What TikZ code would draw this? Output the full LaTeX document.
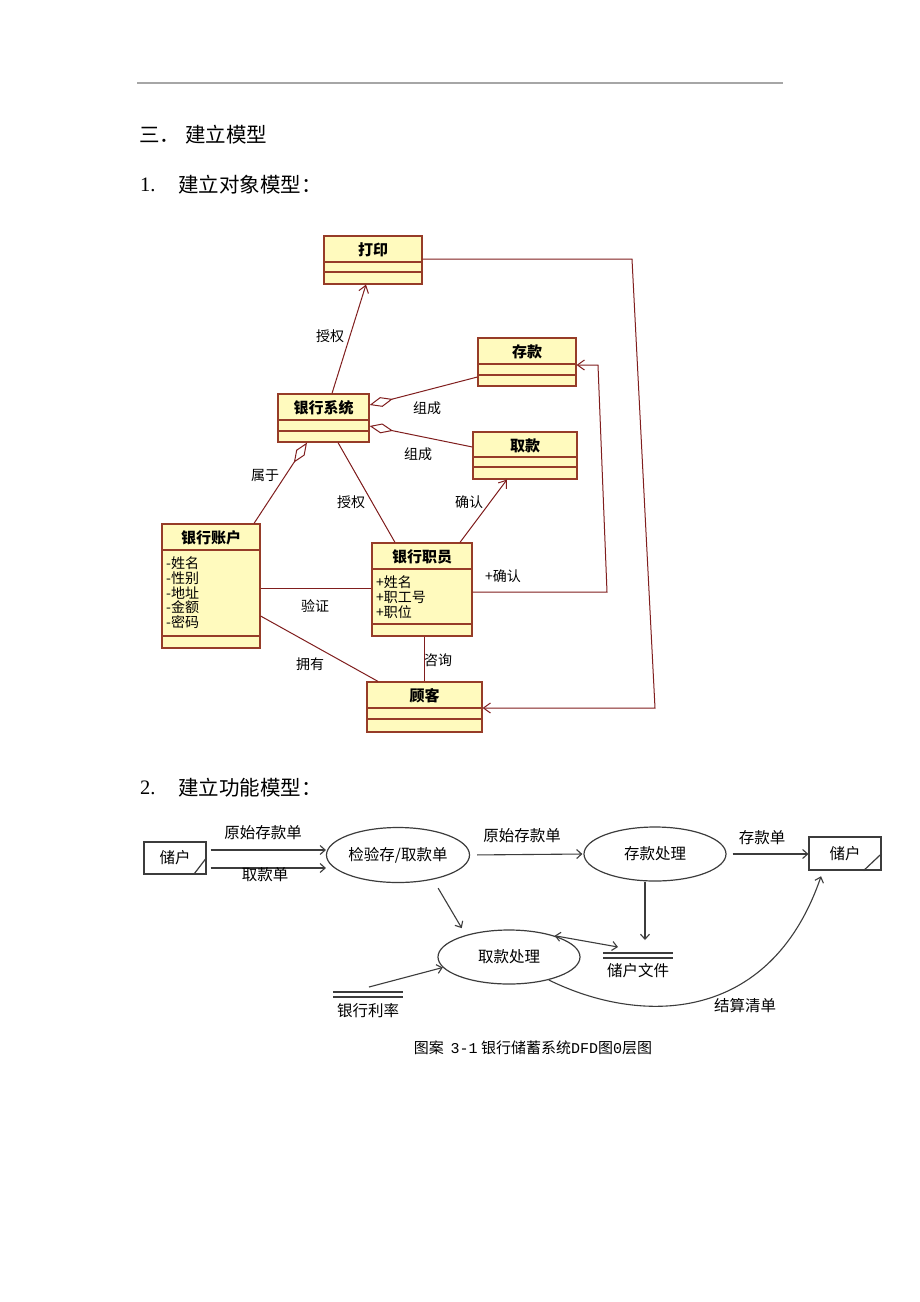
\documentclass[tikz,border=0pt]{standalone}
\usepackage{fontspec}
\setmainfont{Noto Sans CJK SC}
\newfontfamily\numserif{Liberation Serif}
\newfontfamily\capmono{Liberation Mono}
\usetikzlibrary{arrows.meta,shapes.geometric}

\definecolor{clsfill}{RGB}{255,250,190}
\definecolor{clsdraw}{RGB}{150,60,40}
\definecolor{linkred}{RGB}{128,30,30}
\definecolor{dfdgray}{RGB}{60,60,60}

\tikzset{
  clsbox/.style={draw=clsdraw, fill=clsfill, line width=1.2pt, inner sep=0pt},
  clsline/.style={draw=clsdraw, line width=1.2pt},
  clsname/.style={font=\fontsize{15}{15}\selectfont\bfseries, inner sep=0pt},
  attr/.style={font=\fontsize{14}{14}\selectfont, anchor=west, inner sep=0pt},
  link/.style={draw=linkred, line width=1pt},
  lab/.style={font=\fontsize{14}{14}\selectfont, inner sep=0pt},
  uarrow/.style={-{Straight Barb[length=7pt,width=10pt]}},
  agg/.style={-{Diamond[open,length=24pt,width=10pt]}},
  head/.style={font=\fontsize{20.5}{20.5}\selectfont, anchor=west, inner sep=0pt},
  dfdbox/.style={draw=dfdgray, line width=1.2pt, inner sep=0pt, font=\fontsize{15.5}{15.5}\selectfont},
  proc/.style={ellipse, draw=dfdgray, line width=1.2pt, inner sep=0pt, font=\fontsize{15.5}{15.5}\selectfont},
  dfdline/.style={draw=dfdgray, line width=1.2pt},
  dfdlab/.style={font=\fontsize{15.5}{15.5}\selectfont, inner sep=0pt},
  flow/.style={draw=dfdgray, line width=1.1pt, -{Straight Barb[length=5pt,width=9pt]}}
}

% name, left, top, right, bottom, line1, line2, title
\newcommand{\classbox}[8]{%
  \node[clsbox, minimum width={#4-#2}, minimum height={#5-#3}] (#1) at ({(#2+#4)/2},{(#3+#5)/2}) {};
  \draw[clsline] (#2,#6) -- (#4,#6) (#2,#7) -- (#4,#7);
  \node[clsname] (#1-name) at ({(#2+#4)/2},{(#3+#6)/2+1}) {#8};
}

\begin{document}
\begin{tikzpicture}[x=1pt,y=-1pt]
  \fill[white] (0,0) rectangle (920,1302);
  \useasboundingbox (0,0) rectangle (920,1302);

  \draw[gray!70, line width=1.5pt] (137,83) -- (783,83);
  \node[head] (h0) at (139,135) {三．\hspace{5pt}建立模型};
  \node[head, font=\fontsize{20.5}{20.5}\numserif] (h1n) at (140,185) {1.};
  \node[head] (h1) at (178,185) {建立对象模型：};
  \node[head, font=\fontsize{20.5}{20.5}\numserif] (h2n) at (140,788) {2.};
  \node[head] (h2) at (178,788) {建立功能模型：};

  % object model
  \classbox{print}{324}{236}{422}{284}{262}{272}{打印}
  \classbox{dep}{478}{338}{576}{386}{364}{375}{存款}
  \classbox{sys}{278}{394}{369}{442}{420}{431}{银行系统}
  \classbox{wdr}{473}{432}{577}{479}{457}{467}{取款}
  \classbox{acct}{162}{524}{260}{648}{550}{636}{银行账户}
  \classbox{clerk}{372}{543}{472}{636}{569}{624}{银行职员}
  \classbox{cust}{367}{682}{482}{732}{708}{719}{顾客}

  \foreach \t [count=\i] in {-姓名,-性别,-地址,-金额,-密码}
    \node[attr] (acct-a\i) at (166,{548.5+14.7*\i}) {\t};
  \foreach \t [count=\i] in {+姓名,+职工号,+职位}
    \node[attr] (clerk-a\i) at (376,{567+15*\i}) {\t};

  \draw[link,uarrow] (332,0 |- sys.north) -- (366,0 |- print.south);
  \draw[link,agg] (dep.west |- 0,377) -- (sys.east |- 0,405);
  \draw[link,agg] (wdr.west |- 0,447) -- (sys.east |- 0,426);
  \draw[link,agg] (254,0 |- acct.north) -- (307,0 |- sys.south);
  \draw[link] (338,0 |- sys.south) -- (395,0 |- clerk.north);
  \draw[link,uarrow] (460,0 |- clerk.north) -- (507,0 |- wdr.south);
  \draw[link,uarrow] (clerk.east |- 0,592) -- (607,592) -- (598,365) -- (dep.east |- 0,365);
  \draw[link] (acct.east |- 0,588) -- (clerk.west |- 0,588);
  \draw[link] (acct.east |- 0,616) -- (378,0 |- cust.north);
  \draw[link] (424,0 |- clerk.south) -- (424,0 |- cust.north);
  \draw[link,uarrow] (print.east |- 0,259) -- (632,259) -- (655,708) -- (cust.east |- 0,708);

  \node[lab] (l-auth1) at (330,336) {授权};
  \node[lab] (l-comp1) at (427,408) {组成};
  \node[lab] (l-comp2) at (418,454) {组成};
  \node[lab] (l-belong) at (265,475) {属于};
  \node[lab] (l-auth2) at (351,502) {授权};
  \node[lab] (l-conf1) at (469,502) {确认};
  \node[lab] (l-conf2) at (503,576) {+确认};
  \node[lab] (l-verify) at (315,606) {验证};
  \node[lab] (l-own) at (310,664) {拥有};
  \node[lab] (l-ask) at (438,660) {咨询};

  % function model
  \node[dfdbox, minimum width=62, minimum height=32] (dep1) at (175,858) {储户};
  \draw[dfdline] ([xshift=-13pt]dep1.south east) -- ([yshift=17pt]dep1.south east);
  \node[dfdbox, minimum width=72, minimum height=33] (dep2) at (845,853.5) {储户};
  \draw[dfdline] ([xshift=-18pt]dep2.south east) -- ([yshift=17pt]dep2.south east);

  \node[proc, minimum width=143, minimum height=55] (chk) at (398,855) {检验存/取款单};
  \node[proc, minimum width=142, minimum height=54] (dproc) at (655,854) {存款处理};
  \node[proc, minimum width=142, minimum height=54] (wproc) at (509,957) {取款处理};

  \node[dfdlab] (file) at (638,971) {储户文件};
  \draw[dfdline] (603,953) -- (673,953) (603,958) -- (673,958);
  \coordinate (fileTop) at (645,953);
  \coordinate (fileL) at (618,947);
  \node[dfdlab] (rate) at (368,1011) {银行利率};
  \draw[dfdline] (333,992) -- (403,992) (333,997) -- (403,997);
  \coordinate (rateIn) at (369,987);

  \draw[flow, shorten <=4pt] (dep1.east |- 0,850) -- (chk.west |- 0,850);
  \draw[flow, shorten <=4pt] (dep1.east |- 0,868) -- (chk.west |- 0,868);
  \draw[flow, shorten <=7pt, shorten >=1pt] (chk.east) -- (dproc.west);
  \draw[flow, shorten <=6pt] (dproc.east) -- (dep2.west |- dproc.east);
  \draw[flow, shorten >=13pt] (645,0 |- dproc.south) -- (fileTop);
  \draw[flow, shorten <=10pt, shorten >=8pt] (chk.-35) -- (wproc.153);
  \draw[flow, {Straight Barb[length=5pt,width=9pt]}-{Straight Barb[length=5pt,width=9pt]}] (wproc.25) -- (fileL);
  \draw[flow] (rateIn) -- (wproc.189);
  \draw[flow, shorten >=6pt] (wproc.-30) .. controls (640,1025) and (770,1025) .. (823,0 |- dep2.south);

  \node[dfdlab] (l-orig1) at (263,833) {原始存款单};
  \node[dfdlab] (l-wslip) at (265,875) {取款单};
  \node[dfdlab] (l-orig2) at (522,836) {原始存款单};
  \node[dfdlab] (l-dslip) at (762,838) {存款单};
  \node[dfdlab] (l-settle) at (745,1006) {结算清单};

  \node[font=\fontsize{15}{15}\selectfont, inner sep=0pt] (caption) at (533,1048)
    {图案\ \ {\capmono 3-1} 银行储蓄系统{\capmono DFD}图{\capmono 0}层图};
\end{tikzpicture}
\end{document}
